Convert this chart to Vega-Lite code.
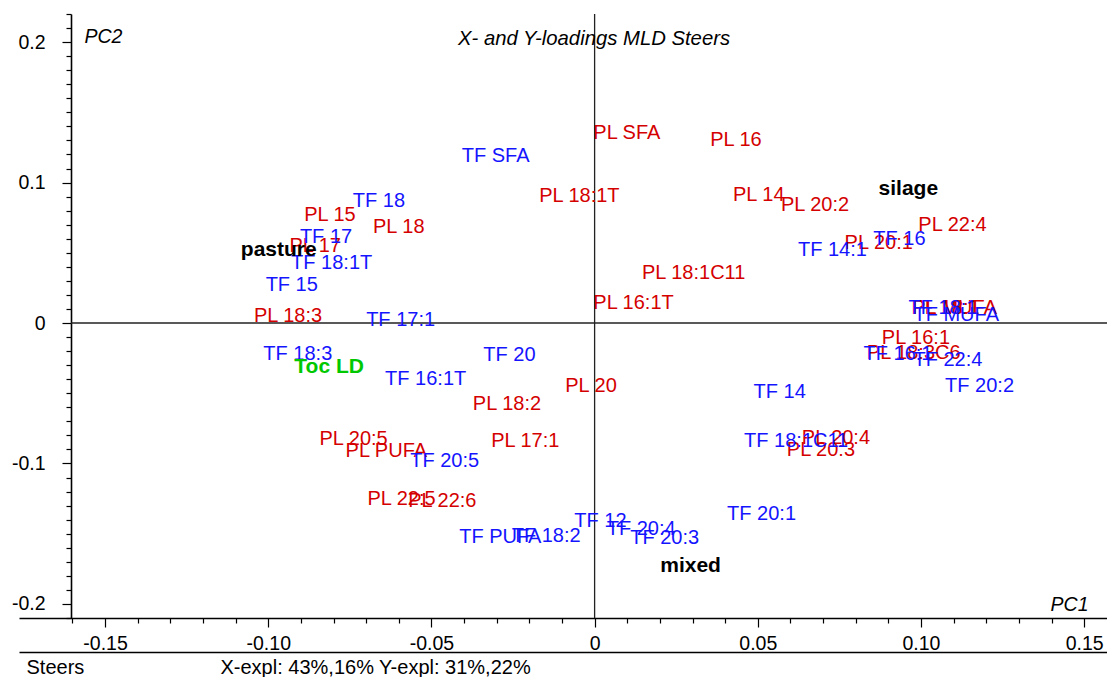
{
  "$schema": "https://vega.github.io/schema/vega-lite/v6.json",
  "width": 1088,
  "height": 604,
  "autosize": {"type": "none"},
  "padding": {"left": 19, "top": 14, "right": 0, "bottom": 59},
  "background": "white",
  "config": {"view": {"stroke": null}, "font": "Liberation Sans"},
  "title": {
    "text": "X- and Y-loadings MLD Steers",
    "anchor": "start",
    "frame": "group",
    "orient": "top",
    "offset": 0,
    "dx": 439,
    "dy": 61,
    "baseline": "alphabetic",
    "fontSize": 20.3,
    "fontStyle": "italic",
    "fontWeight": "normal",
    "color": "#000"
  },
  "data": {
    "values": [
      {"label": "PL SFA", "pc1": -0.0004, "pc2": 0.1351, "group": "PL"},
      {"label": "PL 16", "pc1": 0.0354, "pc2": 0.1305, "group": "PL"},
      {"label": "PL 18:1T", "pc1": -0.0170, "pc2": 0.0902, "group": "PL"},
      {"label": "PL 14", "pc1": 0.0424, "pc2": 0.0914, "group": "PL"},
      {"label": "PL 20:2", "pc1": 0.0571, "pc2": 0.0843, "group": "PL"},
      {"label": "PL 22:4", "pc1": 0.0992, "pc2": 0.0701, "group": "PL"},
      {"label": "PL 20:1", "pc1": 0.0766, "pc2": 0.0570, "group": "PL"},
      {"label": "PL 18:1C11", "pc1": 0.0145, "pc2": 0.0357, "group": "PL"},
      {"label": "PL 16:1T", "pc1": -0.0004, "pc2": 0.0144, "group": "PL"},
      {"label": "PL 15", "pc1": -0.0890, "pc2": 0.0767, "group": "PL"},
      {"label": "PL 18", "pc1": -0.0679, "pc2": 0.0686, "group": "PL"},
      {"label": "PL 17", "pc1": -0.0935, "pc2": 0.0546, "group": "PL"},
      {"label": "PL 18:3", "pc1": -0.1044, "pc2": 0.0053, "group": "PL"},
      {"label": "PL 18:1", "pc1": 0.0971, "pc2": 0.0108, "group": "PL"},
      {"label": "PL MUFA", "pc1": 0.0973, "pc2": 0.0107, "group": "PL"},
      {"label": "PL 16:1", "pc1": 0.0880, "pc2": -0.0105, "group": "PL"},
      {"label": "PL 18:3C6", "pc1": 0.0834, "pc2": -0.0212, "group": "PL"},
      {"label": "PL 20", "pc1": -0.0090, "pc2": -0.0445, "group": "PL"},
      {"label": "PL 18:2", "pc1": -0.0373, "pc2": -0.0580, "group": "PL"},
      {"label": "PL 17:1", "pc1": -0.0317, "pc2": -0.0841, "group": "PL"},
      {"label": "PL 20:4", "pc1": 0.0635, "pc2": -0.0817, "group": "PL"},
      {"label": "PL 20:3", "pc1": 0.0589, "pc2": -0.0905, "group": "PL"},
      {"label": "PL 20:5", "pc1": -0.0843, "pc2": -0.0824, "group": "PL"},
      {"label": "PL PUFA", "pc1": -0.0763, "pc2": -0.0912, "group": "PL"},
      {"label": "PL 22:5", "pc1": -0.0696, "pc2": -0.1255, "group": "PL"},
      {"label": "PL 22:6", "pc1": -0.0571, "pc2": -0.1267, "group": "PL"},
      {"label": "TF SFA", "pc1": -0.0407, "pc2": 0.1191, "group": "TF"},
      {"label": "TF 18", "pc1": -0.0741, "pc2": 0.0866, "group": "TF"},
      {"label": "TF 17", "pc1": -0.0903, "pc2": 0.0615, "group": "TF"},
      {"label": "TF 18:1T", "pc1": -0.0930, "pc2": 0.0428, "group": "TF"},
      {"label": "TF 15", "pc1": -0.1008, "pc2": 0.0274, "group": "TF"},
      {"label": "TF 17:1", "pc1": -0.0700, "pc2": 0.0018, "group": "TF"},
      {"label": "TF 14:1", "pc1": 0.0623, "pc2": 0.0523, "group": "TF"},
      {"label": "TF 16", "pc1": 0.0854, "pc2": 0.0599, "group": "TF"},
      {"label": "TF 18:1", "pc1": 0.0962, "pc2": 0.0108, "group": "TF"},
      {"label": "TF MUFA", "pc1": 0.0977, "pc2": 0.0060, "group": "TF"},
      {"label": "TF 18:3", "pc1": -0.1015, "pc2": -0.0217, "group": "TF"},
      {"label": "TF 16:1T", "pc1": -0.0642, "pc2": -0.0397, "group": "TF"},
      {"label": "TF 20", "pc1": -0.0341, "pc2": -0.0231, "group": "TF"},
      {"label": "TF 16:1", "pc1": 0.0824, "pc2": -0.0219, "group": "TF"},
      {"label": "TF 22:4", "pc1": 0.0977, "pc2": -0.0265, "group": "TF"},
      {"label": "TF 20:2", "pc1": 0.1074, "pc2": -0.0445, "group": "TF"},
      {"label": "TF 14", "pc1": 0.0487, "pc2": -0.0492, "group": "TF"},
      {"label": "TF 18:1C11", "pc1": 0.0458, "pc2": -0.0841, "group": "TF"},
      {"label": "TF 20:5", "pc1": -0.0565, "pc2": -0.0983, "group": "TF"},
      {"label": "TF 20:1", "pc1": 0.0406, "pc2": -0.1362, "group": "TF"},
      {"label": "TF 12", "pc1": -0.0062, "pc2": -0.1410, "group": "TF"},
      {"label": "TF PUFA", "pc1": -0.0415, "pc2": -0.1521, "group": "TF"},
      {"label": "TF 18:2", "pc1": -0.0254, "pc2": -0.1516, "group": "TF"},
      {"label": "TF 20:4", "pc1": 0.0037, "pc2": -0.1469, "group": "TF"},
      {"label": "TF 20:3", "pc1": 0.0109, "pc2": -0.1528, "group": "TF"},
      {"label": "silage", "pc1": 0.0870, "pc2": 0.0957, "group": "Feed"},
      {"label": "pasture", "pc1": -0.1084, "pc2": 0.0518, "group": "Feed"},
      {"label": "mixed", "pc1": 0.0201, "pc2": -0.1730, "group": "Feed"},
      {"label": "Toc LD", "pc1": -0.0920, "pc2": -0.0314, "group": "Toc"}
    ]
  },
  "layer": [
    {
      "data": {"values": [{}]},
      "mark": {"type": "rule", "color": "#222", "strokeWidth": 1.3},
      "encoding": {
        "x": {
          "datum": 0,
          "type": "quantitative",
          "scale": {"domain": [-0.17637, 0.157], "nice": false, "zero": false},
          "axis": {
            "orient": "bottom",
            "offset": 34,
            "domain": true,
            "domainColor": "#000",
            "domainWidth": 1.6,
            "ticks": false,
            "labels": false,
            "grid": false,
            "title": "Steers",
            "titleX": 7,
            "titleY": 21,
            "titleAlign": "left",
            "titleBaseline": "alphabetic",
            "titleAngle": 0,
            "titleFontSize": 20,
            "titleFontWeight": "normal",
            "titleColor": "#000"
          }
        }
      }
    },
    {
      "data": {"values": [{}]},
      "mark": {"type": "rule", "color": "#222", "strokeWidth": 1.3},
      "encoding": {
        "y": {
          "datum": 0,
          "type": "quantitative",
          "scale": {"domain": [-0.21, 0.22], "nice": false, "zero": false},
          "axis": {
            "orient": "left",
            "offset": 0,
            "domain": false,
            "ticks": false,
            "labels": false,
            "grid": false,
            "title": "X-expl: 43%,16% Y-expl: 31%,22%",
            "titleX": 201,
            "titleY": 659,
            "titleAlign": "left",
            "titleBaseline": "alphabetic",
            "titleAngle": 0,
            "titleFontSize": 20,
            "titleFontWeight": "normal",
            "titleColor": "#000"
          }
        },
        "x": {"datum": -0.1604, "type": "quantitative", "axis": null},
        "x2": {"datum": 0.157}
      }
    },
    {
      "transform": [{"filter": "datum.group == 'PL' || datum.group == 'TF'"}],
      "mark": {"type": "text", "align": "left", "baseline": "middle", "fontSize": 20},
      "encoding": {
        "x": {
          "field": "pc1",
          "type": "quantitative",
          "axis": {
            "orient": "bottom",
            "values": [-0.16, -0.15, -0.14, -0.13, -0.12, -0.11, -0.10, -0.09, -0.08, -0.07, -0.06, -0.05, -0.04, -0.03, -0.02, -0.01, 0, 0.01, 0.02, 0.03, 0.04, 0.05, 0.06, 0.07, 0.08, 0.09, 0.10, 0.11, 0.12, 0.13, 0.14, 0.15],
            "domain": true,
            "domainColor": "#000",
            "domainWidth": 1.6,
            "ticks": true,
            "tickColor": "#000",
            "tickWidth": 1.2,
            "tickSize": {"condition": {"test": "abs(datum.value*20 - round(datum.value*20)) < 0.000001", "value": 9}, "value": 5},
            "labelExpr": "abs(datum.value*20 - round(datum.value*20)) < 0.000001 ? (datum.value == 0 ? '0' : replace(format(datum.value, '.2f'), '\u2212', '-')) : ''",
            "labelFontSize": 19.5,
            "labelColor": "#000",
            "labelPadding": 7,
            "labelFlush": false,
            "labelOverlap": false,
            "labelBound": false,
            "grid": false,
            "title": "PC1",
            "titleX": 1069,
            "titleY": -8,
            "titleAlign": "right",
            "titleBaseline": "alphabetic",
            "titleAngle": 0,
            "titleFontSize": 19.5,
            "titleFontStyle": "italic",
            "titleFontWeight": "normal",
            "titleColor": "#000"
          }
        },
        "y": {
          "field": "pc2",
          "type": "quantitative",
          "axis": {
            "orient": "left",
            "offset": -52,
            "values": [-0.21, -0.2, -0.19, -0.18, -0.17, -0.16, -0.15, -0.14, -0.13, -0.12, -0.11, -0.1, -0.09, -0.08, -0.07, -0.06, -0.05, -0.04, -0.03, -0.02, -0.01, 0, 0.01, 0.02, 0.03, 0.04, 0.05, 0.06, 0.07, 0.08, 0.09, 0.1, 0.11, 0.12, 0.13, 0.14, 0.15, 0.16, 0.17, 0.18, 0.19, 0.2, 0.21, 0.22],
            "domain": true,
            "domainColor": "#000",
            "domainWidth": 1.6,
            "ticks": true,
            "tickColor": "#000",
            "tickWidth": 1.2,
            "tickSize": {"condition": {"test": "abs(datum.value*10 - round(datum.value*10)) < 0.000001", "value": 9}, "value": 5},
            "labelExpr": "abs(datum.value*10 - round(datum.value*10)) < 0.000001 ? (datum.value == 0 ? '0' : replace(format(datum.value, '.1f'), '\u2212', '-')) : ''",
            "labelFontSize": 19.5,
            "labelColor": "#000",
            "labelPadding": 17,
            "labelOverlap": false,
            "labelBound": false,
            "labelFlush": false,
            "grid": false,
            "title": "PC2",
            "titleX": 13,
            "titleY": 28,
            "titleAlign": "left",
            "titleBaseline": "alphabetic",
            "titleAngle": 0,
            "titleFontSize": 19.5,
            "titleFontStyle": "italic",
            "titleFontWeight": "normal",
            "titleColor": "#000"
          }
        },
        "text": {"field": "label"},
        "color": {
          "field": "group",
          "type": "nominal",
          "scale": {"domain": ["PL", "TF", "Feed", "Toc"], "range": ["#d40000", "#1414ff", "#000000", "#00c800"]},
          "legend": null
        }
      }
    },
    {
      "transform": [{"filter": "datum.group == 'Feed' || datum.group == 'Toc'"}],
      "mark": {"type": "text", "align": "left", "baseline": "middle", "fontSize": 21, "fontWeight": "bold"},
      "encoding": {
        "x": {"field": "pc1", "type": "quantitative", "axis": null},
        "y": {"field": "pc2", "type": "quantitative", "axis": null},
        "text": {"field": "label"},
        "color": {
          "field": "group",
          "type": "nominal",
          "scale": {"domain": ["PL", "TF", "Feed", "Toc"], "range": ["#d40000", "#1414ff", "#000000", "#00c800"]},
          "legend": null
        }
      }
    }
  ],
  "resolve": {"axis": {"x": "independent", "y": "independent"}}
}
